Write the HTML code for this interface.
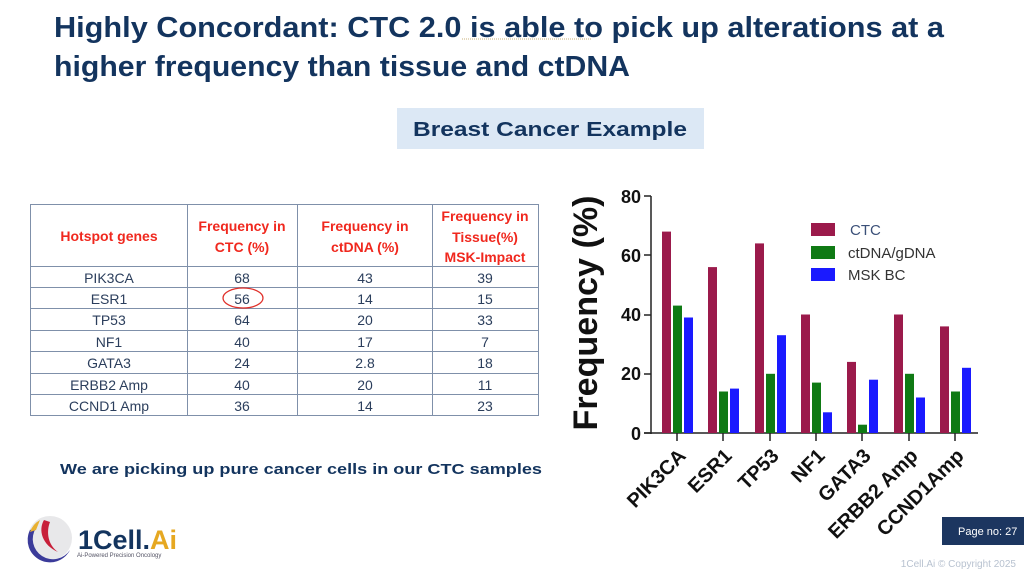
<!DOCTYPE html>
<html><head><meta charset="utf-8"><style>
html,body{margin:0;padding:0;background:#fff;}
svg{display:block;font-family:"Liberation Sans",sans-serif;}
</style></head><body>
<svg width="1024" height="576" viewBox="0 0 1024 576" xmlns="http://www.w3.org/2000/svg">
<rect width="1024" height="576" fill="#fff"/>
<text x="54" y="37" font-size="29" font-weight="bold" fill="#13345e" textLength="890" lengthAdjust="spacingAndGlyphs">Highly Concordant: CTC 2.0 is able to pick up alterations at a</text>
<line x1="462" y1="39" x2="592" y2="39" stroke="#c9b27a" stroke-width="1" stroke-dasharray="1,1"/>
<text x="54" y="76" font-size="29" font-weight="bold" fill="#13345e" textLength="576" lengthAdjust="spacingAndGlyphs">higher frequency than tissue and ctDNA</text>
<rect x="397" y="108" width="307" height="41" fill="#dce8f5"/>
<text x="550" y="136" font-size="20" font-weight="bold" fill="#13345e" text-anchor="middle" textLength="274" lengthAdjust="spacingAndGlyphs">Breast Cancer Example</text>
<g stroke="#7f90aa" stroke-width="1" fill="none">
<rect x="30.5" y="204.5" width="508" height="211"/>
<line x1="187.5" y1="204" x2="187.5" y2="416"/>
<line x1="297.5" y1="204" x2="297.5" y2="416"/>
<line x1="432.5" y1="204" x2="432.5" y2="416"/>
<line x1="30" y1="266.5" x2="538" y2="266.5"/>
<line x1="30" y1="287.5" x2="538" y2="287.5"/>
<line x1="30" y1="308.5" x2="538" y2="308.5"/>
<line x1="30" y1="330.5" x2="538" y2="330.5"/>
<line x1="30" y1="351.5" x2="538" y2="351.5"/>
<line x1="30" y1="373.5" x2="538" y2="373.5"/>
<line x1="30" y1="394.5" x2="538" y2="394.5"/>
</g>
<g font-size="14" font-weight="bold" fill="#f0281e" text-anchor="middle">
<text x="109" y="241">Hotspot genes</text>
<text x="242" y="231">Frequency in</text><text x="242" y="252">CTC (%)</text>
<text x="365" y="231">Frequency in</text><text x="365" y="252">ctDNA (%)</text>
<text x="485" y="221">Frequency in</text><text x="485" y="242">Tissue(%)</text><text x="485" y="262">MSK-Impact</text>
</g>
<g font-size="14" fill="#2b3e5c" text-anchor="middle">
<text x="109" y="283">PIK3CA</text><text x="242" y="283">68</text><text x="365" y="283">43</text><text x="485" y="283">39</text>
<text x="109" y="304">ESR1</text><text x="242" y="304">56</text><text x="365" y="304">14</text><text x="485" y="304">15</text>
<text x="109" y="325">TP53</text><text x="242" y="325">64</text><text x="365" y="325">20</text><text x="485" y="325">33</text>
<text x="109" y="347">NF1</text><text x="242" y="347">40</text><text x="365" y="347">17</text><text x="485" y="347">7</text>
<text x="109" y="368">GATA3</text><text x="242" y="368">24</text><text x="365" y="368">2.8</text><text x="485" y="368">18</text>
<text x="109" y="390">ERBB2 Amp</text><text x="242" y="390">40</text><text x="365" y="390">20</text><text x="485" y="390">11</text>
<text x="109" y="411">CCND1 Amp</text><text x="242" y="411">36</text><text x="365" y="411">14</text><text x="485" y="411">23</text>
</g>
<ellipse cx="243" cy="298" rx="20" ry="10" fill="none" stroke="#e0302a" stroke-width="1.3"/>
<text x="60" y="474" font-size="15" font-weight="bold" fill="#13345e" textLength="482" lengthAdjust="spacingAndGlyphs">We are picking up pure cancer cells in our CTC samples</text>
<g font-weight="bold" font-size="18" fill="#111" text-anchor="end">
<text x="641" y="203">80</text><text x="641" y="262">60</text><text x="641" y="321">40</text><text x="641" y="380">20</text><text x="641" y="440">0</text>
</g>
<text transform="translate(597,313) rotate(-90)" font-size="34" font-weight="bold" fill="#111" text-anchor="middle" textLength="235" lengthAdjust="spacingAndGlyphs">Frequency (%)</text>
<g stroke="#222" stroke-width="1.5">
<line x1="651" y1="196" x2="651" y2="434"/>
<line x1="644" y1="196" x2="651" y2="196"/><line x1="644" y1="255" x2="651" y2="255"/><line x1="644" y1="315" x2="651" y2="315"/><line x1="644" y1="374" x2="651" y2="374"/><line x1="644" y1="433" x2="651" y2="433"/>
<line x1="644" y1="433" x2="978" y2="433"/>
<line x1="677" y1="433" x2="677" y2="441"/><line x1="723" y1="433" x2="723" y2="441"/><line x1="770" y1="433" x2="770" y2="441"/><line x1="816" y1="433" x2="816" y2="441"/><line x1="862" y1="433" x2="862" y2="441"/><line x1="909" y1="433" x2="909" y2="441"/><line x1="955" y1="433" x2="955" y2="441"/>
</g>
<g fill="#9b1a4b">
<rect x="662" y="231.6" width="9" height="201.4"/>
<rect x="708" y="267.1" width="9" height="165.9"/>
<rect x="755" y="243.4" width="9" height="189.6"/>
<rect x="801" y="314.5" width="9" height="118.5"/>
<rect x="847" y="361.9" width="9" height="71.1"/>
<rect x="894" y="314.5" width="9" height="118.5"/>
<rect x="940" y="326.4" width="9" height="106.6"/>
</g>
<g fill="#0f7a14">
<rect x="673" y="305.6" width="9" height="127.4"/>
<rect x="719" y="391.5" width="9" height="41.5"/>
<rect x="766" y="373.8" width="9" height="59.2"/>
<rect x="812" y="382.6" width="9" height="50.4"/>
<rect x="858" y="424.7" width="9" height="8.3"/>
<rect x="905" y="373.8" width="9" height="59.2"/>
<rect x="951" y="391.5" width="9" height="41.5"/>
</g>
<g fill="#1a1aff">
<rect x="684" y="317.5" width="9" height="115.5"/>
<rect x="730" y="388.6" width="9" height="44.4"/>
<rect x="777" y="335.2" width="9" height="97.8"/>
<rect x="823" y="412.3" width="9" height="20.7"/>
<rect x="869" y="379.7" width="9" height="53.3"/>
<rect x="916" y="397.5" width="9" height="35.5"/>
<rect x="962" y="367.8" width="9" height="65.2"/>
</g>
<g font-size="20" font-weight="bold" fill="#111" text-anchor="end">
<text transform="translate(687,457) rotate(-45)">PIK3CA</text>
<text transform="translate(733,457) rotate(-45)">ESR1</text>
<text transform="translate(780,457) rotate(-45)">TP53</text>
<text transform="translate(826,457) rotate(-45)">NF1</text>
<text transform="translate(872,457) rotate(-45)">GATA3</text>
<text transform="translate(919,457) rotate(-45)">ERBB2 Amp</text>
<text transform="translate(965,457) rotate(-45)">CCND1Amp</text>
</g>
<rect x="811" y="223" width="24" height="13" fill="#9b1a4b"/>
<rect x="811" y="246" width="24" height="13" fill="#0f7a14"/>
<rect x="811" y="268" width="24" height="13" fill="#1a1aff"/>
<g font-size="15" fill="#333">
<text x="850" y="235" fill="#3b5078">CTC</text>
<text x="848" y="258">ctDNA/gDNA</text>
<text x="848" y="280">MSK BC</text>
</g>
<rect x="942" y="517" width="82" height="28" fill="#1c3660"/>
<text x="958" y="535" font-size="11" fill="#fff">Page no: 27</text>
<text x="1016" y="567" font-size="10" fill="#b8c2d0" text-anchor="end">1Cell.Ai © Copyright 2025</text>
<circle cx="50" cy="538" r="22" fill="#e8e8ea"/>
<path d="M30 530 A22 22 0 0 0 70 550 A18 18 0 0 1 36 528 Z" fill="#3b3b9a"/>
<path d="M44 520 C38 530 42 545 58 552 C48 545 46 532 50 522 Z" fill="#c8203a"/>
<path d="M40 520 A22 22 0 0 0 30 532 L36 530 Z" fill="#e8b030"/>
<text x="78" y="549" font-size="27" font-weight="bold" fill="#13345e">1Cell.<tspan fill="#e6a821">Ai</tspan></text>
<text x="77" y="557" font-size="6" fill="#556">Ai-Powered Precision Oncology</text>
</svg>
</body></html>
